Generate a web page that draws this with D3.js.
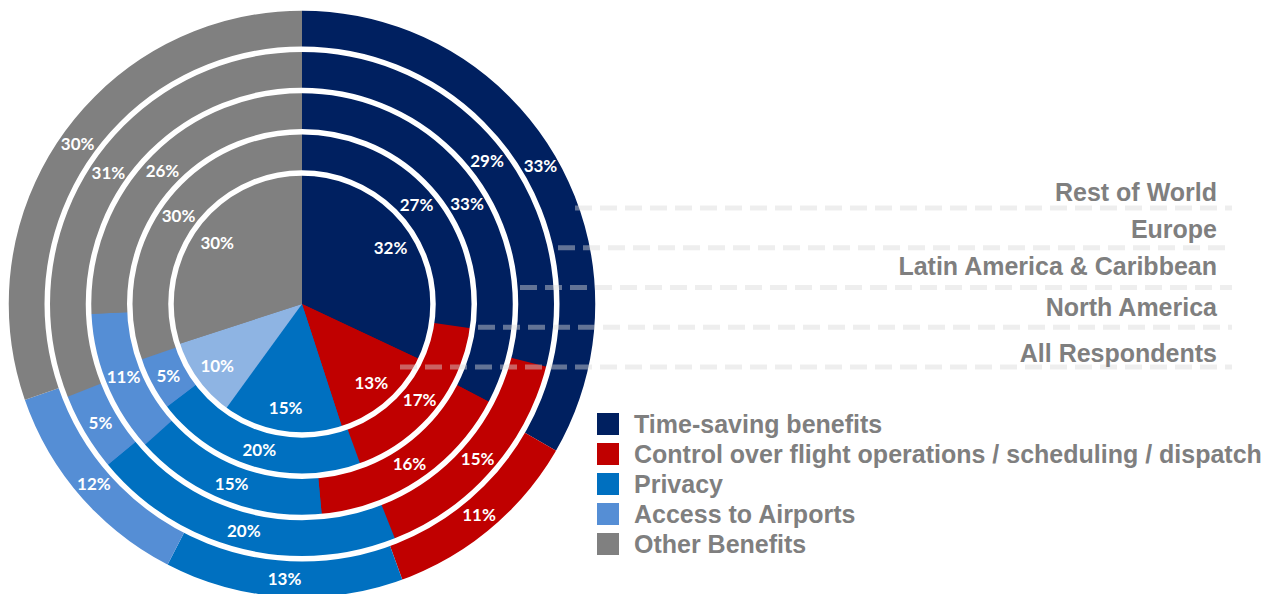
<!DOCTYPE html>
<html>
<meta charset=utf-8>
<head>
<script src="https://d3js.org/d3.v7.min.js"></script>
<style>
  body { margin: 0; background: #fff; }
  .pct { font: bold 17px Lato, "Open Sans", sans-serif; fill: #fff; }
  .lab { font: bold 25px "Liberation Sans", Arial, sans-serif; fill: #7f7f7f; }
</style>
</head>
<body>
<script>

// rings, inner -> outer
var regions = ["All Respondents", "North America", "Latin America & Caribbean", "Europe", "Rest of World"];
var categories = ["Time-saving benefits", "Control over flight operations / scheduling / dispatch", "Privacy", "Access to Airports", "Other Benefits"];

var allRespondents = [32, 13, 15, 10, 30];
var northAmerica   = [27, 17, 20, 5, 30];
var latinAmerica   = [33, 16, 15, 11, 26];
var europe         = [29, 15, 20, 5, 31];
var restOfWorld    = [33, 11, 13, 12, 30];

var ringValues = [allRespondents, northAmerica, latinAmerica, europe, restOfWorld];

var colors = ["#002060", "#c00000", "#0070c0", "#558ed5", "#808080"];
var innerAccess = "#8eb4e3";   // centre pie uses a lighter tint for access

var W = 1280, H = 594, cx = 302, cy = 304;

var svg = d3.select("body").append("svg")
    .attr("width", W).attr("height", H);

var radius = d3.scaleLinear().domain([0, regions.length - 1]).range([131, 296]);
var pie = d3.pie().sort(null).value(function(d){ return d; });
var g = svg.append("g").attr("transform", "translate(" + cx + "," + cy + ")");

// draw full pies from the outside in, each with a white rim
for (var i = regions.length - 1; i >= 0; i--) {
  var r = radius(i);
  var arcs = pie(ringValues[i]);
  var arc = d3.arc().innerRadius(0).outerRadius(r);
  g.selectAll(".p" + i).data(arcs).enter().append("path")
    .attr("class", "p" + i)
    .attr("d", arc)
    .attr("fill", function(d, j){ return (i == 0 && j == 3) ? innerAccess : colors[j]; });
  g.append("circle").attr("r", r).attr("fill", "none")
    .attr("stroke", "#fff").attr("stroke-width", 5.5);
}

// percent labels
for (var i = 0; i < regions.length; i++) {
  var arcs = pie(ringValues[i]);
  var lab;
  if (i == 0) lab = d3.arc().innerRadius(radius(0) * 0.8).outerRadius(radius(0) * 0.8);
  else lab = d3.arc().innerRadius(radius(i - 1) + 3).outerRadius(radius(i) - 3);
  g.selectAll(".t" + i).data(arcs).enter().append("text")
    .attr("class", "pct t" + i)
    .attr("transform", function(d){ return "translate(" + lab.centroid(d) + ")"; })
    .attr("text-anchor", "middle")
    .attr("dy", "0.36em")
    .text(function(d){ return d.data + "%"; });
}

// dashed leader lines + region names
var lineY = d3.scalePoint().domain(regions).range([367, 208]);
var lineX0 = [400, 478, 520, 558, 575];
var labelY = [353, 307, 266, 229, 192];

svg.selectAll(".lead").data(regions).enter().append("line")
  .attr("class", "lead")
  .attr("x1", function(d, i){ return lineX0[i]; })
  .attr("x2", 1232)
  .attr("y1", function(d){ return lineY(d); })
  .attr("y2", function(d){ return lineY(d); })
  .attr("stroke", "#d9d9d9")
  .attr("stroke-opacity", 0.45)
  .attr("stroke-width", 5)
  .attr("stroke-dasharray", "17,8");

svg.selectAll(".reg").data(regions).enter().append("text")
  .attr("class", "lab reg")
  .attr("x", 1217)
  .attr("y", function(d, i){ return labelY[i]; })
  .attr("dy", "0.35em")
  .attr("text-anchor", "end")
  .text(function(d){ return d; });

// legend
var legY = d3.scalePoint().domain(categories).range([424, 544]);
var leg = svg.selectAll(".leg").data(categories).enter().append("g")
  .attr("transform", function(d){ return "translate(597," + legY(d) + ")"; });
leg.append("rect").attr("x", 0).attr("y", -11).attr("width", 22).attr("height", 22)
  .attr("fill", function(d, i){ return colors[i]; });
leg.append("text").attr("class", "lab").attr("x", 37).attr("dy", "0.35em")
  .text(function(d){ return d; });

</script>
</body>
</html>
